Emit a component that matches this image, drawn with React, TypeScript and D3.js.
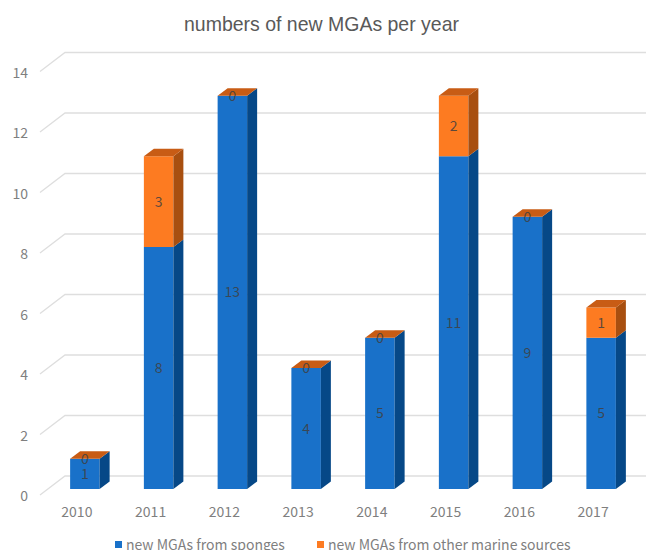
import * as d3 from "d3";

const width = 646;
const height = 550;

const years = ["2010", "2011", "2012", "2013", "2014", "2015", "2016", "2017"];
const sponges = [1, 8, 13, 4, 5, 11, 9, 5];
const otherMarine = [0, 3, 0, 0, 0, 2, 0, 1];
const yTicks = [0, 2, 4, 6, 8, 10, 12, 14];

const seriesNames = ["new MGAs from sponges", "new MGAs from other marine sources"];
const fronts = ["#1971c9", "#fd7b21"];
const sides = ["#064887", "#a84f10"];
const topColor = "#c85c15";

const labelFont = "'Noto Sans CJK SC', 'Noto Sans', sans-serif";
const titleFont = "'Liberation Sans', Arial, sans-serif";

// floor of the 3d box
const floorX = 40;
const floorY = 495;
const depthX = 25;
const depthY = 19;
// bars sit in the middle of the floor
const barShiftX = 8;
const barShiftY = 6;
const barDepthX = 10;
const barDepthY = 7.5;

const x = d3.scaleBand<string>().domain(years).range([floorX, floorX + 590]).paddingInner(0.6).paddingOuter(0.3);
const y = d3.scaleLinear().domain([0, 14]).range([floorY, floorY - 423.5]);

const stack = d3.stack<number>().keys(["0", "1"]).value((i, key) => (key === "0" ? sponges[i] : otherMarine[i]));
const stacked = stack(years.map((_, i) => i));

const bar3d = (year: string, lo: number, hi: number) => {
    const x0 = (x(year) as number) + barShiftX;
    const x1 = x0 + x.bandwidth();
    const y0 = y(lo) - barShiftY;
    const y1 = y(hi) - barShiftY;
    const path = d3.path();
    path.moveTo(x1, y1);
    path.lineTo(x1 + barDepthX, y1 - barDepthY);
    path.lineTo(x1 + barDepthX, y0 - barDepthY);
    path.lineTo(x1, y0);
    path.closePath();
    const top = d3.path();
    top.moveTo(x0, y1);
    top.lineTo(x0 + barDepthX, y1 - barDepthY);
    top.lineTo(x1 + barDepthX, y1 - barDepthY);
    top.lineTo(x1, y1);
    top.closePath();
    return { x0, x1, y0, y1, side: path.toString(), top: top.toString() };
};

export default function App() {
    return (
        <svg width={width} height={height} style={{ position: "absolute", left: 0, top: 0 }}>
            <rect width={width} height={height} fill="#fff" />
            <text
                x={321.5}
                y={31}
                textAnchor="middle"
                fontSize={21}
                fill="#595959"
                fontFamily={titleFont}
                textLength={275}
                lengthAdjust="spacingAndGlyphs"
            >
                numbers of new MGAs per year
            </text>

            {yTicks.map((t) => (
                <g key={t}>
                    <polyline
                        points={`${floorX},${y(t)} ${floorX + depthX},${y(t) - depthY} ${width},${y(t) - depthY}`}
                        fill="none"
                        stroke="#dedede"
                        strokeWidth={1.3}
                    />
                    <text x={28} y={y(t)} textAnchor="end" dominantBaseline="central" fontSize={14} fill="#7f7f7f" fontFamily={labelFont}>
                        {t}
                    </text>
                </g>
            ))}

            {years.map((year) => (
                <text
                    key={year}
                    x={(x(year) as number) + x.bandwidth() / 2}
                    y={511}
                    textAnchor="middle"
                    dominantBaseline="central"
                    fontSize={14}
                    fill="#7f7f7f"
                    fontFamily={labelFont}
                >
                    {year}
                </text>
            ))}

            {stacked.map((layer, s) =>
                layer.map((d, i) => {
                    const b = bar3d(years[i], d[0], d[1]);
                    return (
                        <g key={years[i]}>
                            {d[1] > d[0] && (
                                <>
                                    <rect x={b.x0} y={b.y1} width={b.x1 - b.x0} height={b.y0 - b.y1} fill={fronts[s]} />
                                    <path d={b.side} fill={sides[s]} />
                                </>
                            )}
                            {s === 1 && <path d={b.top} fill={topColor} />}
                        </g>
                    );
                })
            )}

            {stacked.map((layer, s) =>
                layer.map((d, i) => {
                    const b = bar3d(years[i], d[0], d[1]);
                    return (
                        <text
                            key={years[i]}
                            x={(b.x0 + b.x1) / 2}
                            y={(b.y0 + b.y1) / 2 - 1}
                            textAnchor="middle"
                            dominantBaseline="central"
                            fontSize={14}
                            fill="#404040"
                            fillOpacity={0.85}
                            fontFamily={labelFont}
                        >
                            {d[1] - d[0]}
                        </text>
                    );
                })
            )}

            <rect x={115} y={541} width={7} height={7} fill={fronts[0]} />
            <text x={126} y={550} fontSize={14} fill="#7f7f7f" fontFamily={labelFont}>
                {seriesNames[0]}
            </text>
            <rect x={317} y={541} width={7} height={7} fill={fronts[1]} />
            <text x={328} y={550} fontSize={14} fill="#7f7f7f" fontFamily={labelFont}>
                {seriesNames[1]}
            </text>
        </svg>
    );
}
